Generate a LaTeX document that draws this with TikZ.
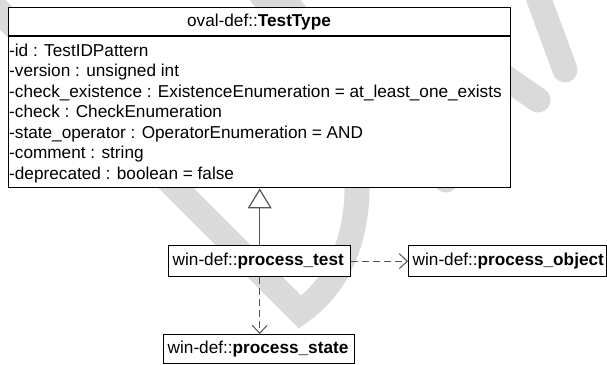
\documentclass[tikz,border=0pt]{standalone}
\usepackage{fontspec}
\setmainfont{Liberation Sans}
\usetikzlibrary{arrows.meta,positioning}
\definecolor{wmgray}{RGB}{218,218,218}
\definecolor{linkgray}{RGB}{85,85,85}
\newcommand{\wintype}[1]{\mbox{win-def::\textbf{#1}}}
\tikzset{
  classbox/.style={draw, line width=1.4pt, fill=white, inner sep=0pt},
  attr/.style={anchor=base west, inner sep=1pt},
  smallbox/.style={draw, line width=1.4pt, fill=white, inner xsep=4pt,
    inner ysep=0pt, text width=#1, align=left, minimum height=31pt,
    anchor=north west},
  gen/.style={linkgray, line width=1.2pt,
    -{Triangle[open, length=20pt, width=24pt, fill=white, line width=1.2pt]}},
  dep/.style={linkgray, line width=1.1pt, dash pattern=on 7pt off 4pt,
    -{Straight Barb[length=8pt, width=15pt, line width=1pt]}},
  water/.style={wmgray, line width=25pt, line cap=round}
}
\begin{document}
\begin{tikzpicture}[x=1pt, y=-1pt, font=\fontsize{17.2}{20}\selectfont]
  \path[use as bounding box, fill=white] (0,0) rectangle (607,364);
  % watermark behind the diagram
  \draw[water, line join=miter] (-40,-28) -- (300,312)
    .. controls (390,250) and (370,80) .. (265,-20);
  \draw[water] (446,180) -- (262,-4);
  \draw[water] (538,100) -- (470,53);
  \draw[water] (565,70) -- (530,-25);
  % the class
  \node[classbox, anchor=north west, minimum width=502pt, minimum height=180pt]
    (testtype) at (8,7) {};
  \draw[line width=1.4pt] (testtype.west |- 0,36) -- (testtype.east |- 0,36);
  \node[anchor=base] (title) at (259,27) {oval-def::\textbf{TestType}};
  \foreach \attrtext [count=\i from 0] in {
      {-id : TestIDPattern},
      {-version : unsigned int},
      {-check\_existence : ExistenceEnumeration = at\_least\_one\_exists},
      {-check : CheckEnumeration},
      {-state\_operator : OperatorEnumeration = AND},
      {-comment : string},
      {-deprecated : boolean = false}}
    \node[attr] (attr\i) at (8,56+20.5*\i) {\attrtext};
  % the win-def types
  \node[smallbox=174pt] (ptest) at (168,245) {\wintype{process\_test}};
  \node[smallbox=190pt] (pobject) at (408,245) {\wintype{process\_object}};
  \node[smallbox=183pt, minimum height=29pt] (pstate) at (163,334)
    {\wintype{process\_state}};
  % links
  \draw[gen] (ptest.north) -- (ptest.north |- testtype.south);
  \draw[dep] (ptest.east) -- (pobject.west);
  \draw[dep] (ptest.south) -- (ptest.south |- pstate.north);
\end{tikzpicture}
\end{document}
